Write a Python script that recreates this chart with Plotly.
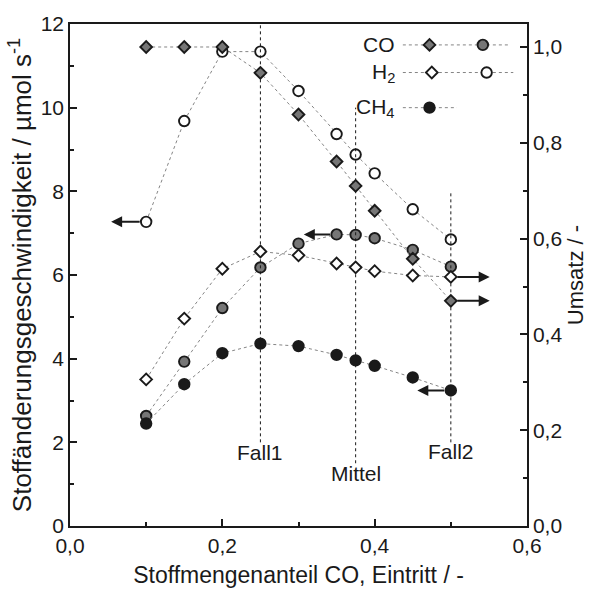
import plotly.graph_objects as go

# CO mole fraction at the inlet
x_co = [0.1, 0.15, 0.2, 0.25, 0.3, 0.35, 0.375, 0.4, 0.45, 0.5]

# conversion (right axis)
conv_co = [1.0, 1.0, 1.0, 0.946, 0.859, 0.761, 0.710, 0.658, 0.558, 0.470]
conv_h2 = [0.306, 0.433, 0.537, 0.573, 0.565, 0.548, 0.540, 0.532, 0.523, 0.520]

# rates of change (left axis, µmol/s)
rate_co = [2.63, 3.93, 5.21, 6.18, 6.75, 6.97, 6.96, 6.88, 6.60, 6.20]
rate_h2 = [7.27, 9.68, 11.34, 11.34, 10.40, 9.37, 8.88, 8.43, 7.57, 6.85]
rate_ch4 = [2.45, 3.39, 4.13, 4.36, 4.30, 4.09, 3.96, 3.83, 3.55, 3.24]

# marked operating points: label, x, line top, line bottom, label y
cases = [("Fall1", 0.25, 12.0, 2.0, 1.75),
         ("Mittel", 0.375, 10.0, 1.5, 1.25),
         ("Fall2", 0.5, 8.0, 2.0, 1.77)]

FONT = "Liberation Sans, Arial, sans-serif"
INK = "#1a1a1a"
GREY = "#767676"
LINE = dict(color="#858585", width=1, dash="dot")
D_SIZE = 9     # diamond size
C_SIZE = 10.5  # circle size
EDGE = dict(color=INK, width=1.9)

fig = go.Figure()


def series(y, yaxis, symbol, fill, size):
    fig.add_trace(go.Scatter(
        x=x_co, y=y, yaxis=yaxis, mode="lines+markers", showlegend=False,
        line=LINE,
        marker=dict(symbol=symbol, size=size, color=fill, line=EDGE)))


series(conv_co, "y2", "diamond", GREY, D_SIZE)
series(conv_h2, "y2", "diamond", "white", D_SIZE)
series(rate_co, "y", "circle", GREY, C_SIZE)
series(rate_h2, "y", "circle", "white", C_SIZE)
series(rate_ch4, "y", "circle", INK, C_SIZE)

# dashed markers for the operating points
for name, xc, top, bot, ylab in cases:
    fig.add_trace(go.Scatter(x=[xc, xc], y=[bot, top], mode="lines",
                             showlegend=False, hoverinfo="skip",
                             line=dict(color=INK, width=1, dash="3px,3px")))
    fig.add_annotation(x=xc, y=ylab, xref="x", yref="y", text=name,
                       showarrow=False, font=dict(family=FONT, size=21, color=INK))

# legend drawn inside the plot
leg_rows = [
    ("CO", 11.5, [(0.472, "diamond", GREY, D_SIZE), (0.542, "circle", GREY, C_SIZE)], 0.577),
    ("H<sub>2</sub>", 10.84, [(0.475, "diamond", "white", D_SIZE), (0.547, "circle", "white", C_SIZE)], 0.582),
    ("CH<sub>4</sub>", 10.0, [(0.472, "circle", INK, C_SIZE)], 0.508),
]
for text, yl, marks, xend in leg_rows:
    fig.add_trace(go.Scatter(x=[0.437, xend], y=[yl, yl], mode="lines",
                             showlegend=False, hoverinfo="skip", line=LINE))
    for xm, sym, fill, sz in marks:
        fig.add_trace(go.Scatter(x=[xm], y=[yl], mode="markers", showlegend=False,
                                 hoverinfo="skip",
                                 marker=dict(symbol=sym, size=sz, color=fill, line=EDGE)))
    fig.add_annotation(x=0.429, y=yl, xref="x", yref="y", text=text, xanchor="right",
                       showarrow=False, font=dict(family=FONT, size=21, color=INK))

# arrows pointing to the axis each series belongs to
arrows = [
    (x_co[0], rate_h2[0], "y", -0.046),
    (x_co[5], rate_co[5], "y", -0.043),
    (x_co[9], rate_ch4[9], "y", -0.044),
    (x_co[9], conv_h2[9], "y2", 0.051),
    (x_co[9], conv_co[9], "y2", 0.051),
]
for xa, ya, yref, dx in arrows:
    fig.add_annotation(x=xa + dx, y=ya, ax=xa, ay=ya, xref="x", yref=yref,
                       axref="x", ayref=yref, text="", showarrow=True,
                       arrowhead=2, arrowsize=1.1, arrowwidth=2, arrowcolor=INK,
                       startstandoff=5, standoff=0)

tickfont = dict(family=FONT, size=21, color=INK)
axis_common = dict(showline=True, linecolor=INK, linewidth=1.5, ticks="inside",
                   tickcolor=INK, ticklen=7, tickwidth=1.5, showgrid=False,
                   zeroline=False, tickfont=tickfont)
minor = dict(ticks="inside", ticklen=4, tickcolor=INK, tickwidth=1.5)

fig.update_layout(
    width=599, height=601,
    margin=dict(l=70, r=72, t=19, b=75),
    plot_bgcolor="white", paper_bgcolor="white",
    separators=",.",
    font=dict(family=FONT, color=INK),
    xaxis=dict(range=[0, 0.6], tickvals=[0, 0.2, 0.4, 0.6], tickformat=".1f",
               mirror=True, minor=dict(dtick=0.1, **minor),
               title=dict(text="Stoffmengenanteil CO, Eintritt / -",
                          font=dict(family=FONT, size=23, color=INK), standoff=11),
               **axis_common),
    yaxis=dict(range=[0, 12], dtick=2, minor=dict(dtick=1, **minor),
               title=dict(text="Stoffänderungsgeschwindigkeit / µmol s<sup>-1</sup>",
                          font=dict(family=FONT, size=26, color=INK), standoff=2),
               **axis_common),
    yaxis2=dict(range=[0, 1.048], dtick=0.2, tickformat=".1f", overlaying="y",
                side="right", minor=dict(dtick=0.1, **minor),
                title=dict(text="Umsatz / -",
                           font=dict(family=FONT, size=22, color=INK), standoff=6),
                **axis_common),
)

fig.write_html("out.html")
